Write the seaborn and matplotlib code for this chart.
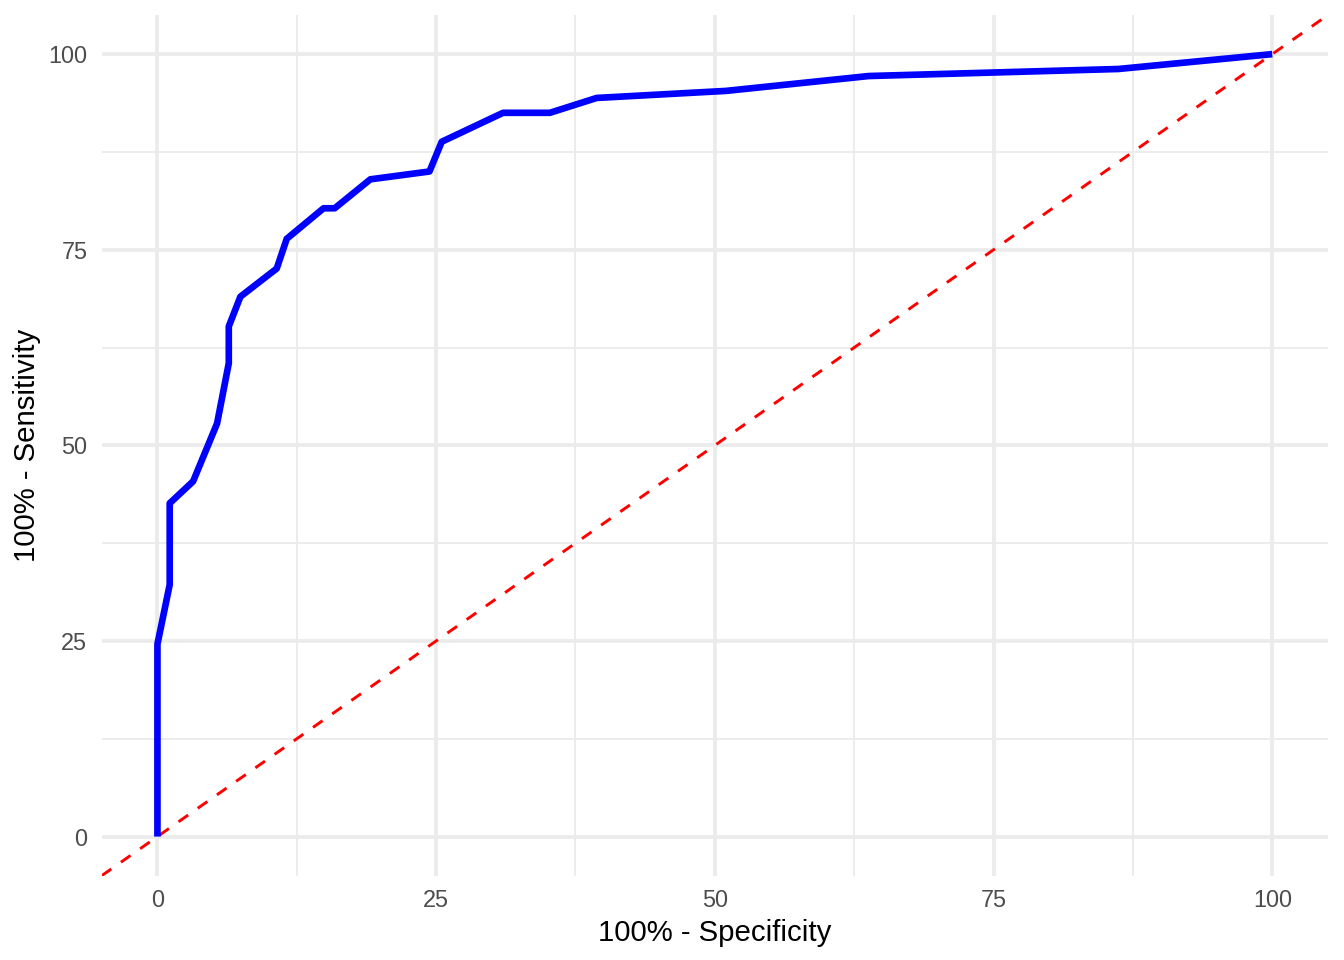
import matplotlib
matplotlib.use("Agg")
import matplotlib.pyplot as plt
import seaborn as sns
import pandas as pd

# ROC curve points (100% - specificity, 100% - sensitivity as labelled)
fpr = [0.0, 0.0, 1.1, 1.1, 3.2, 5.35, 6.4, 6.4, 7.44, 10.7, 11.6, 14.9, 15.9,
       19.1, 24.4, 25.5, 31.0, 35.2, 39.4, 51.0, 63.8, 86.2, 100.0]
tpr = [0.0, 24.6, 32.2, 42.6, 45.4, 52.8, 60.5, 65.2, 69.0, 72.6, 76.4, 80.3, 80.3,
       84.0, 85.0, 88.8, 92.5, 92.5, 94.4, 95.3, 97.2, 98.1, 100.0]
x_ticks = [0, 25, 50, 75, 100]
y_ticks = [0, 25, 50, 75, 100]

df = pd.DataFrame({"fpr": fpr, "tpr": tpr})

sns.set_theme(style="white")
plt.rcParams["font.family"] = ["Liberation Sans", "DejaVu Sans"]

fig = plt.figure(figsize=(7, 5), dpi=192)
ax = fig.add_axes([101.7 / 1344, 1 - 875.7 / 960, (1328 - 101.7) / 1344, (875.7 - 15) / 960])

ax.set_xlim(-5, 105)
ax.set_ylim(-5, 105)

# grid
for v in [12.5, 37.5, 62.5, 87.5]:
    ax.axvline(v, color="#EBEBEB", lw=0.71, zorder=0)
    ax.axhline(v, color="#EBEBEB", lw=0.71, zorder=0)
for v in x_ticks:
    ax.axvline(v, color="#EBEBEB", lw=1.42, zorder=0)
for v in y_ticks:
    ax.axhline(v, color="#EBEBEB", lw=1.42, zorder=0)

# diagonal reference
ax.plot([-5, 105], [-5, 105], color="red", lw=1.1, linestyle=(0, (4, 4)), zorder=2)

sns.lineplot(data=df, x="fpr", y="tpr", sort=False, estimator=None, color="blue",
             lw=2.5, ax=ax, zorder=3, solid_capstyle="butt")

for s in ax.spines.values():
    s.set_visible(False)

ax.set_xticks(x_ticks)
ax.set_yticks(y_ticks)
ax.set_xticklabels([str(t) for t in x_ticks])
ax.set_yticklabels([str(t) for t in y_ticks])
ax.tick_params(axis="both", length=0, labelsize=8.8, labelcolor="#4D4D4D")
ax.tick_params(axis="x", pad=4.9)
ax.tick_params(axis="y", pad=5.4)

ax.set_xlabel("100% - Specificity", fontsize=11, color="black", labelpad=2.6)
ax.set_ylabel("100% - Sensitivity", fontsize=11, color="black", labelpad=2.8)

fig.savefig("out.png", dpi=192)
